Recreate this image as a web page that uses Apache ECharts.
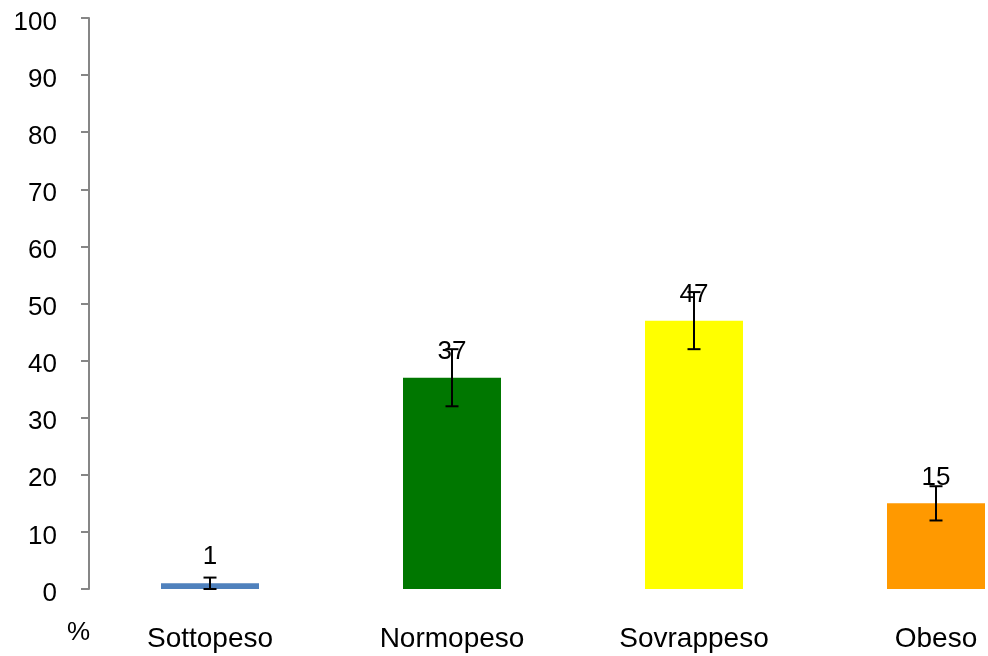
<!DOCTYPE html>
<html>
<head>
<meta charset="utf-8">
<script src="https://cdn.jsdelivr.net/npm/echarts@6/dist/echarts.min.js"></script>
<style>
html,body{margin:0;padding:0;background:#fff;}
#chart{width:988px;height:656px;}
</style>
</head>
<body>
<div id="chart"></div>
<script>
var categories = ['Sottopeso', 'Normopeso', 'Sovrappeso', 'Obeso'];
var values = [1, 37, 47, 15];
var errLow = [0, 32, 42, 12];
var errHigh = [2, 42, 52, 18];
var barColors = ['#4F81BD', '#007700', '#FFFF00', '#FF9900'];
var yTicks = [0, 10, 20, 30, 40, 50, 60, 70, 80, 90, 100];
var unitLabel = '%';

var FONT = '"Liberation Sans", Arial, sans-serif';
var chart = echarts.init(document.getElementById('chart'));

var errData = categories.map(function (c, i) { return [i, errLow[i], errHigh[i]]; });

var option = {
  animation: false,
  grid: { left: 89, top: 18, height: 571, width: 968, outerBoundsMode: 'none', containLabel: false },
  xAxis: {
    type: 'category',
    data: categories,
    axisLine: { show: false },
    axisTick: { show: false },
    axisLabel: { margin: 36, fontSize: 28, color: '#000', fontFamily: FONT }
  },
  yAxis: {
    type: 'value',
    min: yTicks[0],
    max: yTicks[yTicks.length - 1],
    interval: yTicks[1] - yTicks[0],
    splitLine: { show: false },
    axisLine: { show: true, lineStyle: { color: '#868686', width: 2 } },
    axisTick: { show: true, length: 8, lineStyle: { color: '#868686', width: 2 } },
    axisLabel: {
      margin: 32, color: '#000',
      formatter: '{v|{value}}',
      rich: { v: { fontSize: 26, fontFamily: FONT, color: '#000', padding: [9, 0, 0, 0] } }
    }
  },
  graphic: [{
    type: 'text', left: 67, top: 620,
    style: { text: unitLabel, fontSize: 26, fill: '#000', fontFamily: FONT }
  }],
  series: [
    {
      type: 'bar',
      z: 2,
      barWidth: 98,
      data: values.map(function (v, i) { return { value: v, itemStyle: { color: barColors[i] } }; })
    },
    {
      type: 'custom',
      z: 3,
      data: errData,
      renderItem: function (params, api) {
        var x = api.value(0);
        var lo = api.coord([x, api.value(1)]);
        var hi = api.coord([x, api.value(2)]);
        var hw = 6.5;
        var st = { stroke: '#000', lineWidth: 2 };
        return {
          type: 'group',
          children: [
            { type: 'line', shape: { x1: lo[0], y1: lo[1], x2: hi[0], y2: hi[1] }, style: st },
            { type: 'line', shape: { x1: lo[0] - hw, y1: lo[1], x2: lo[0] + hw, y2: lo[1] }, style: st },
            { type: 'line', shape: { x1: hi[0] - hw, y1: hi[1], x2: hi[0] + hw, y2: hi[1] }, style: st }
          ]
        };
      }
    },
    {
      type: 'bar',
      z: 4,
      barWidth: 98,
      barGap: '-100%',
      itemStyle: { color: 'rgba(0,0,0,0)' },
      label: { show: true, position: 'top', distance: 13, fontSize: 26, color: '#000', fontFamily: FONT },
      data: values
    }
  ]
};
chart.setOption(option);
</script>
</body>
</html>
